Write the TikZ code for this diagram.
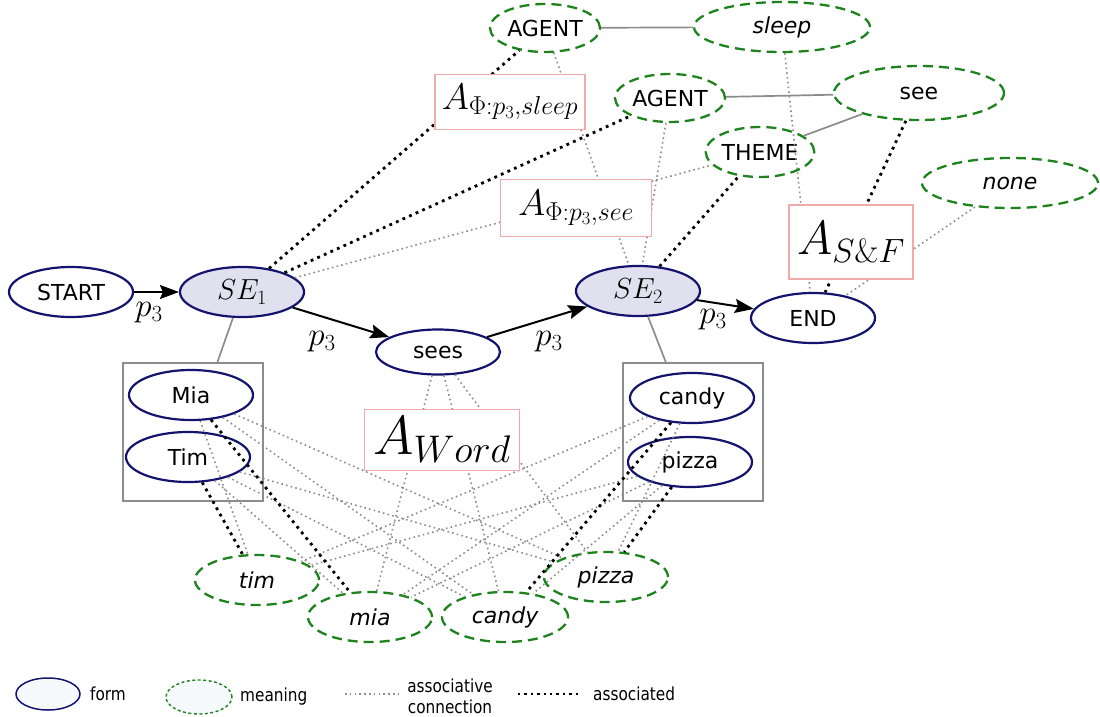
\RequirePackage{fix-cm}
\documentclass[tikz,border=0pt]{standalone}
\usepackage[no-math]{fontspec}
\setmainfont{DejaVu Sans}
\newfontfamily\legendfont[FakeStretch=0.85]{DejaVu Sans}
\usetikzlibrary{shapes.geometric,arrows.meta}

\definecolor{formblue}{RGB}{20,20,110}
\definecolor{sefill}{RGB}{224,224,238}
\definecolor{meangreen}{RGB}{30,130,30}
\definecolor{boxpink}{RGB}{240,170,170}
\definecolor{linkgray}{RGB}{140,140,140}
\definecolor{legendfill}{RGB}{246,250,253}

\tikzset{
  form/.style={ellipse, draw=formblue, line width=2.2pt, minimum width=124pt,
    minimum height=50pt, inner sep=0pt, font=\fontsize{22}{26}\selectfont},
  senode/.style={form, fill=sefill, font=\fontsize{29}{33}\selectfont},
  meaning/.style={ellipse, draw=meangreen, line width=2.3pt,
    dash pattern=on 10pt off 6pt, minimum width=124pt, minimum height=50pt,
    inner sep=0pt, font=\fontsize{22}{26}\selectfont},
  assocbox/.style={draw=boxpink, line width=1.5pt, fill=white, inner sep=0pt},
  group/.style={draw=linkgray, line width=1.7pt, inner sep=0pt},
  flow/.style={draw=black, line width=2pt, -{Stealth[length=19pt,width=14pt,inset=3pt]}},
  plabel/.style={font=\fontsize{33}{36}\selectfont, inner sep=0pt},
  link/.style={draw=linkgray, line width=1.7pt},
  conn/.style={draw=linkgray, line width=1.6pt, dash pattern=on 1.6pt off 3.2pt},
  tied/.style={draw=black, line width=2.8pt, dash pattern=on 2.8pt off 4.4pt},
  legendtext/.style={font=\legendfont\fontsize{18}{21}\selectfont, inner sep=0pt},
}

\begin{document}
\begin{tikzpicture}[x=1pt,y=-1pt]
\useasboundingbox (0,0) rectangle (1100,717);

% form nodes: the sentence path
\node[form] (start) at (71,292) {START};
\node[senode] (se1) at (242,292) {$SE_1$};
\node[form, minimum height=45pt] (sees) at (438,352) {sees};
\node[senode] (se2) at (638,291) {$SE_2$};
\node[form] (end) at (813,318) {END};

% form nodes: fillers of the two slots
\node[form] (Mia) at (191,395) {Mia};
\node[form] (Tim) at (188,457) {Tim};
\node[form] (candyF) at (692,398) {candy};
\node[form] (pizzaF) at (690,462) {pizza};
\node[group, minimum width=140pt, minimum height=138pt] (g1) at (193,432) {};
\node[group, minimum width=140pt, minimum height=138pt] (g2) at (693,432) {};

% meaning nodes
\node[meaning, minimum width=110pt, minimum height=48pt] (agent1) at (545,28) {AGENT};
\node[meaning, minimum width=176pt] (sleep) at (782,27) {\itshape sleep};
\node[meaning, minimum width=110pt, minimum height=48pt] (agent2) at (670,98) {AGENT};
\node[meaning, minimum width=170pt, minimum height=54pt] (see) at (919,93) {see};
\node[meaning, minimum width=106pt] (theme) at (760,152) {THEME};
\node[meaning, minimum width=176pt] (none) at (1010,183) {\itshape none};
\node[meaning] (timM) at (257,580) {\itshape tim};
\node[meaning] (miaM) at (370,617) {\itshape mia};
\node[meaning, minimum width=126pt] (candyM) at (505,617) {\itshape candy};
\node[meaning] (pizzaM) at (606,577) {\itshape pizza};

% structural links
\draw[link] (agent1) -- (sleep);
\draw[link] (agent2) -- (see);
\draw[link] (theme) -- (see);
\draw[link] (se1) -- (g1);
\draw[link] (se2) -- (g2);

% associative connections
\draw[conn] (se1) -- (theme);
\draw[conn] (agent1) -- (se2);
\draw[conn] (agent2) -- (se2);
\draw[conn] (sleep) -- (end);
\draw[conn] (none) -- (end);
\draw[conn] (sees) -- (miaM);
\draw[conn] (sees) -- (candyM);
\draw[conn] (sees) -- (pizzaM);
\draw[conn] (Mia) -- (timM);
\draw[conn] (Mia) -- (candyM);
\draw[conn] (Mia) -- (pizzaM);
\draw[conn] (Tim) -- (miaM);
\draw[conn] (Tim) -- (candyM);
\draw[conn] (Tim) -- (pizzaM);
\draw[conn] (candyF) -- (timM);
\draw[conn] (candyF) -- (miaM);
\draw[conn] (candyF) -- (pizzaM);
\draw[conn] (pizzaF) -- (timM);
\draw[conn] (pizzaF) -- (miaM);
\draw[conn] (pizzaF) -- (candyM);

% established associations
\draw[tied] (se1) -- (agent1);
\draw[tied] (se1) -- (agent2);
\draw[tied] (se2) -- (theme);
\draw[tied] (see) -- (end);
\draw[tied] (Mia) -- (miaM);
\draw[tied] (Tim) -- (timM);
\draw[tied] (candyF) -- (candyM);
\draw[tied] (pizzaF) -- (pizzaM);

% transitions
\draw[flow] (start) -- (se1);
\draw[flow] (se1) -- (sees);
\draw[flow] (sees) -- (se2);
\draw[flow] (se2) -- (end);
\node[plabel] (p1) at (149,313) {$p_3$};
\node[plabel] (p2) at (322,342) {$p_3$};
\node[plabel] (p3) at (549,342) {$p_3$};
\node[plabel] (p4) at (713,320) {$p_3$};

% association matrices, drawn over the connections
\node[assocbox, minimum width=150pt, minimum height=55pt] (aSleep) at (510,102)
  {\fontsize{37}{42}\selectfont$A_{\Phi:p_3,sleep}$};
\node[assocbox, minimum width=151pt, minimum height=57pt] (aSee) at (576,208)
  {\fontsize{37}{42}\selectfont$A_{\Phi:p_3,see}$};
\node[assocbox, minimum width=124pt, minimum height=74pt] (aSF) at (851,242)
  {\fontsize{48}{54}\selectfont$A_{S\&F}$};
\node[assocbox, minimum width=155pt, minimum height=61pt] (aWord) at (442,440)
  {\fontsize{55}{60}\selectfont$A_{Word}$};

% legend
\node[form, minimum width=64pt, minimum height=32pt, line width=1.5pt, fill=legendfill] (lgForm) at (48,694) {};
\node[legendtext, anchor=west] (lgFormT) at (90,694) {form};
\node[meaning, minimum width=66pt, minimum height=34pt, line width=1.4pt,
  dash pattern=on 3pt off 2.5pt, fill=legendfill] (lgMean) at (199,697) {};
\node[legendtext, anchor=west] (lgMeanT) at (240,697) {meaning};
\coordinate (lgC1) at (345,694);
\coordinate (lgC2) at (400,694);
\draw[conn] (lgC1) -- (lgC2);
\node[legendtext, align=center] (lgConnT) at (450,696) {associative\\connection};
\coordinate (lgT1) at (518,694);
\coordinate (lgT2) at (578,694);
\draw[tied, line width=2.4pt, dash pattern=on 2.4pt off 4pt] (lgT1) -- (lgT2);
\node[legendtext, anchor=west] (lgTiedT) at (593,694) {associated};
\end{tikzpicture}
\end{document}
